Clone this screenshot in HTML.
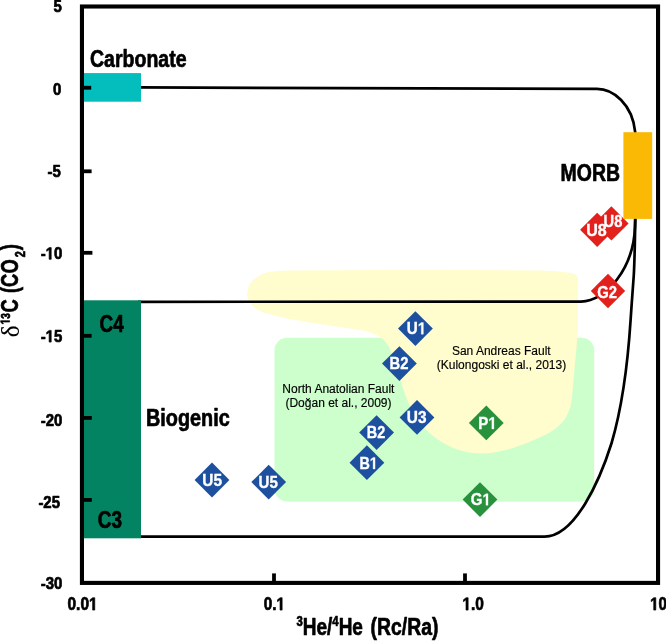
<!DOCTYPE html>
<html>
<head>
<meta charset="utf-8">
<title>d13C vs 3He/4He</title>
<style>
  html, body { margin: 0; padding: 0; background: #ffffff; }
  body { width: 666px; height: 641px; overflow: hidden; }
  svg { display: block; will-change: transform; }
  text { font-family: "Liberation Sans", sans-serif; }
  .b { font-weight: bold; fill: #000; stroke: #000; stroke-width: 0.7px; stroke-linejoin: round; }
  .r { font-weight: normal; fill: #000; stroke: #000; stroke-width: 0.15px; font-size: 12px; text-anchor: middle; }
  .d { font-weight: bold; fill: #fff; font-size: 16.9px; text-anchor: middle; stroke: #fff; stroke-width: 0.35px; }
</style>
</head>
<body>
<svg width="666" height="641" viewBox="0 0 666 641">
  <defs><filter id="soft" x="-5%" y="-5%" width="110%" height="110%"><feGaussianBlur stdDeviation="0.6"/></filter></defs>
  <rect x="0" y="0" width="666" height="641" fill="#ffffff"/>

  <!-- light green field: North Anatolian Fault -->
  <rect x="274.5" y="337.8" width="319.7" height="163.6" rx="12.5" ry="12.5" fill="#ccffcc" filter="url(#soft)"/>

  <!-- light yellow field: San Andreas Fault -->
  <path id="yellow" fill="#fffccd" filter="url(#soft)" d="M 247.2,294.6
    C 247.5,288 249,284 252,281.4
    C 256,277 262,273.5 270,271.8
    C 276,271 282,270.8 288,270.6
    L 343,270.2 L 413,269.8 L 540,270.4 L 560,271.4 L 572,273.3
    C 576,274 578,276 578.2,279.5
    L 577.9,330 L 576.1,352 L 574,374 L 572.2,395.5
    C 571.5,405 569,413.5 563,421.8
    C 555,430.5 545,435.5 534.6,439.8
    C 520,446 500,453.5 481,453.5
    C 465,453.5 450,447.5 440.5,441.2
    C 432,436 426,430.5 421,424
    C 412,412 407,401 402,385
    C 398,370 394,358 389,347
    C 384,338.5 378,334.5 364.7,330.8
    L 343,327.6 L 316,323.5 L 288,318.7 L 264,312.7
    C 258,310.5 254.5,308.5 252,305.5
    C 249,302 247.3,299 247.2,294.6 Z"/>

  <!-- mixing curves -->
  <g fill="none" stroke="#000" stroke-width="2.7" stroke-linecap="butt" stroke-linejoin="round">
    <path d="M 138,87.4 L 597,88.9 C 613,88.9 632.5,104 635.2,132.2 L 635.2,140"/>
    <path d="M 138,301.8 L 581,301.6 C 606,301.6 634,268 635,226 L 635.3,216"/>
    <path d="M 138,536.7 L 544.6,536.6 C 575,536.6 600,480 611.6,443 C 621,411 627.5,368 630.6,320 C 631.6,305 633,285 633.8,275 C 634.5,262 635,240 635.3,216"/>
  </g>

  <!-- end-member boxes -->
  <rect x="82" y="73.1" width="59" height="28.6" fill="#04bdbd"/>
  <rect x="82" y="300.3" width="59" height="238" fill="#038362"/>

  <!-- axes frame -->
  <rect x="81.95" y="6.5" width="576.1" height="576.4" fill="none" stroke="#000" stroke-width="4.1"/>
  <g stroke="#000" stroke-width="3.8" fill="none">
    <path d="M 82,87.75 H 91.2"/>
    <path d="M 82,171.3 H 91.6"/>
    <path d="M 82,252.8 H 92.4"/>
    <path d="M 82,335.8 H 91.6"/>
    <path d="M 82,417.9 H 91.8"/>
    <path d="M 82,499.9 H 91.8"/>
    <path d="M 274,583 V 573.4"/>
    <path d="M 465,583 V 573.4"/>
  </g>

  <!-- y tick labels -->
  <g class="b" font-size="17" text-anchor="end">
    <text transform="translate(61.7,12.4) scale(0.88,1)">5</text>
    <text transform="translate(61.3,94.9) scale(0.88,1)">0</text>
    <text transform="translate(60.7,177.0) scale(0.88,1)">-5</text>
    <g class="b" font-size="17" transform="translate(62.3,259.3) scale(0.88,1)" style="font-kerning:none"><text x="-24.57" y="0" text-anchor="start">-</text><path transform="translate(-18.91,0) scale(0.00830,-0.00830)" style="stroke-width:84.3" d="M478,0 L478,1170 L140,959 L140,1180 L493,1409 L759,1409 L759,0 Z"/><text x="-9.45" y="0" text-anchor="start">0</text></g>
    <g class="b" font-size="17" transform="translate(62.3,342.1) scale(0.88,1)" style="font-kerning:none"><text x="-24.57" y="0" text-anchor="start">-</text><path transform="translate(-18.91,0) scale(0.00830,-0.00830)" style="stroke-width:84.3" d="M478,0 L478,1170 L140,959 L140,1180 L493,1409 L759,1409 L759,0 Z"/><text x="-9.45" y="0" text-anchor="start">5</text></g>
    <text transform="translate(62.3,425.5) scale(0.88,1)">-20</text>
    <text transform="translate(60.0,508.0) scale(0.88,1)">-25</text>
    <text transform="translate(62.3,589.2) scale(0.88,1)">-30</text>
  </g>

  <!-- x tick labels -->
  <g class="b" font-size="18" text-anchor="start">
    <g class="b" font-size="18" transform="translate(67.5,610.1) scale(0.86,1)" style="font-kerning:none"><text x="0.00" y="0" text-anchor="start">0.0</text><path transform="translate(25.02,0) scale(0.00879,-0.00879)" style="stroke-width:79.6" d="M478,0 L478,1170 L140,959 L140,1180 L493,1409 L759,1409 L759,0 Z"/></g>
    <g class="b" font-size="18" transform="translate(263.7,610.1) scale(0.85,1)" style="font-kerning:none"><text x="0.00" y="0" text-anchor="start">0.</text><path transform="translate(15.01,0) scale(0.00879,-0.00879)" style="stroke-width:79.6" d="M478,0 L478,1170 L140,959 L140,1180 L493,1409 L759,1409 L759,0 Z"/></g>
    <g class="b" font-size="18" transform="translate(462.4,610.1) scale(0.86,1)" style="font-kerning:none"><path transform="translate(0.00,0) scale(0.00879,-0.00879)" style="stroke-width:79.6" d="M478,0 L478,1170 L140,959 L140,1180 L493,1409 L759,1409 L759,0 Z"/><text x="10.01" y="0" text-anchor="start">.0</text></g>
    <g class="b" font-size="18" transform="translate(650.2,610.1) scale(0.84,1)" style="font-kerning:none"><path transform="translate(0.00,0) scale(0.00879,-0.00879)" style="stroke-width:79.6" d="M478,0 L478,1170 L140,959 L140,1180 L493,1409 L759,1409 L759,0 Z"/><text x="10.01" y="0" text-anchor="start">0</text></g>
  </g>

  <!-- axis titles -->
  <text class="b" font-size="24.2" transform="translate(296.4,635.2) scale(0.785,1)"><tspan font-size="14.5" dy="-8.8">3</tspan><tspan dy="8.8">He/</tspan><tspan font-size="14.5" dy="-8.8">4</tspan><tspan dy="8.8">He</tspan></text>
  <text class="b" font-size="24.2" transform="translate(370.6,635.2) scale(0.80,1)">(Rc/Ra)</text>
  <text font-family="Liberation Serif" font-size="25.5" style="font-family:'Liberation Serif',serif" stroke="#000" stroke-width="0.1" transform="translate(18.5,337.2) rotate(-90) scale(0.98,1)">δ</text>
  <g class="b" font-size="13" transform="translate(9.6,324.4) rotate(-90) scale(0.78,1)" style="font-kerning:none"><path transform="translate(0.00,0) scale(0.00635,-0.00635)" style="stroke-width:110.3" d="M478,0 L478,1170 L140,959 L140,1180 L493,1409 L759,1409 L759,0 Z"/><text x="7.23" y="0" text-anchor="start">3</text></g>
  <text class="b" font-size="24.2" transform="translate(18.4,312.4) rotate(-90) scale(0.76,1)">C</text>
  <text class="b" font-size="24.2" transform="translate(18.4,293) rotate(-90) scale(0.76,1)">(CO</text>
  <text class="b" font-size="14" transform="translate(25.4,257.2) rotate(-90) scale(0.78,1)">2</text>
  <text class="b" font-size="24.2" transform="translate(18.4,250.2) rotate(-90) scale(0.76,1)">)</text>

  <!-- field labels -->
  <g class="b" font-size="23.8">
    <text x="90" y="67.1" textLength="96.5" lengthAdjust="spacingAndGlyphs">Carbonate</text>
    <text x="560.6" y="180.7" textLength="59.4" lengthAdjust="spacingAndGlyphs">MORB</text>
    <text x="146" y="425.6" textLength="83.8" lengthAdjust="spacingAndGlyphs">Biogenic</text>
    <text x="99.6" y="332.4" textLength="24.2" lengthAdjust="spacingAndGlyphs">C4</text>
    <text x="97.8" y="528" textLength="24.2" lengthAdjust="spacingAndGlyphs">C3</text>
  </g>

  <!-- annotations -->
  <text class="r" x="501.3" y="355.3">San Andreas Fault</text>
  <text class="r" x="501.5" y="369.2">(Kulongoski et al., 2013)</text>
  <text class="r" x="338.4" y="393">North Anatolian Fault</text>
  <text class="r" x="338.5" y="407.2">(Doğan et al., 2009)</text>

  <!-- markers -->
  <g fill="#1e50a0">
    <path d="M 415.4,311.2 l 17.4,17.4 l -17.4,17.4 l -17.4,-17.4 Z"/>
    <path d="M 399.4,346.2 l 17.4,17.4 l -17.4,17.4 l -17.4,-17.4 Z"/>
    <path d="M 417,400 l 17.4,17.4 l -17.4,17.4 l -17.4,-17.4 Z"/>
    <path d="M 376.6,415.2 l 17.4,17.4 l -17.4,17.4 l -17.4,-17.4 Z"/>
    <path d="M 366.9,445.3 l 17.4,17.4 l -17.4,17.4 l -17.4,-17.4 Z"/>
    <path d="M 212,462.6 l 17.4,17.4 l -17.4,17.4 l -17.4,-17.4 Z"/>
    <path d="M 268.7,464.7 l 17.4,17.4 l -17.4,17.4 l -17.4,-17.4 Z"/>
  </g>
  <g fill="#28913c">
    <path d="M 486.3,405.5 l 17.4,17.4 l -17.4,17.4 l -17.4,-17.4 Z"/>
    <path d="M 480,482.2 l 17.4,17.4 l -17.4,17.4 l -17.4,-17.4 Z"/>
  </g>
  <g fill="#e3211c">
    <path d="M 611.4,206.2 l 17.2,17.2 l -17.2,17.2 l -17.2,-17.2 Z"/>
    <path d="M 597.2,212.7 l 17.1,17.1 l -17.1,17.1 l -17.1,-17.1 Z"/>
    <path d="M 608,273.8 l 17.2,17.2 l -17.2,17.2 l -17.2,-17.2 Z"/>
  </g>
  <rect x="623.4" y="132.2" width="28.8" height="86.7" fill="#fab905"/>
  <g id="dl">
    <g class="d" font-size="16.9" transform="translate(416.47,334.21) scale(0.9,1)" style="font-kerning:none"><text x="-10.80" y="0" text-anchor="start">U</text><path transform="translate(1.40,0) scale(0.00825,-0.00825)" style="stroke-width:42.4" d="M478,0 L478,1170 L140,959 L140,1180 L493,1409 L759,1409 L759,0 Z"/></g>
    <text class="d" x="399.06" y="368.81" textLength="18.9" lengthAdjust="spacingAndGlyphs">B2</text>
    <text class="d" x="416.66" y="422.84" textLength="19.7" lengthAdjust="spacingAndGlyphs">U3</text>
    <text class="d" x="376.10" y="438.01" textLength="18.5" lengthAdjust="spacingAndGlyphs">B2</text>
    <g class="d" font-size="16.9" transform="translate(368.55,469.01) scale(0.85,1)" style="font-kerning:none"><text x="-10.80" y="0" text-anchor="start">B</text><path transform="translate(1.40,0) scale(0.00825,-0.00825)" style="stroke-width:42.4" d="M478,0 L478,1170 L140,959 L140,1180 L493,1409 L759,1409 L759,0 Z"/></g>
    <text class="d" x="212.10" y="486.01" textLength="19.7" lengthAdjust="spacingAndGlyphs">U5</text>
    <text class="d" x="268.20" y="488.11" textLength="19.3" lengthAdjust="spacingAndGlyphs">U5</text>
    <g class="d" font-size="16.9" transform="translate(487.49,428.91) scale(0.89,1)" style="font-kerning:none"><text x="-10.34" y="0" text-anchor="start">P</text><path transform="translate(0.94,0) scale(0.00825,-0.00825)" style="stroke-width:42.4" d="M478,0 L478,1170 L140,959 L140,1180 L493,1409 L759,1409 L759,0 Z"/></g>
    <g class="d" font-size="16.9" transform="translate(480.78,505.31) scale(0.89,1)" style="font-kerning:none"><text x="-11.27" y="0" text-anchor="start">G</text><path transform="translate(1.87,0) scale(0.00825,-0.00825)" style="stroke-width:42.4" d="M478,0 L478,1170 L140,959 L140,1180 L493,1409 L759,1409 L759,0 Z"/></g>
    <text class="d" x="613.00" y="226.91" textLength="18.8" lengthAdjust="spacingAndGlyphs">U8</text>
    <text class="d" x="596.40" y="236.41" textLength="20.5" lengthAdjust="spacingAndGlyphs">U8</text>
    <text class="d" x="607.20" y="297.71" textLength="19.8" lengthAdjust="spacingAndGlyphs">G2</text>
  </g>
</svg>
</body>
</html>
